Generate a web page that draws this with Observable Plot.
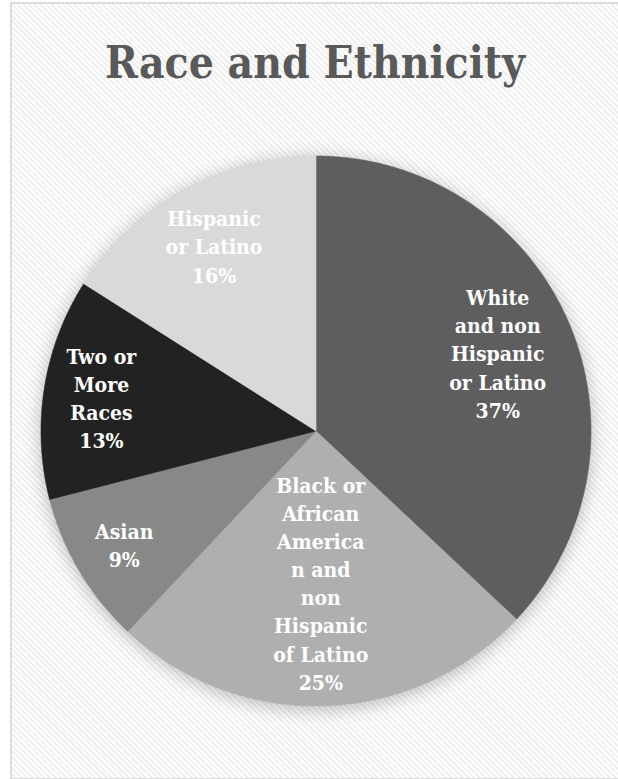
<!DOCTYPE html>
<html>
<head>
<meta charset="utf-8">
<script src="https://cdn.jsdelivr.net/npm/d3@7"></script>
<script src="https://cdn.jsdelivr.net/npm/@observablehq/plot@0.6"></script>
<style>
  html, body { margin: 0; padding: 0; background: #ffffff; }
  #wrap { position: relative; width: 618px; height: 779px; overflow: hidden; }
  #bg { position: absolute; left: 10px; top: 2px; width: 640px; height: 774px;
        border: 2px solid #dcdcdc;
        background: repeating-linear-gradient(45deg, #ffffff 0px, #ffffff 2px, #efefef 2px, #efefef 4px); }
  #chart { position: absolute; left: 0; top: 0; }
</style>
</head>
<body>
<div id="wrap"><div id="bg"></div><div id="chart"></div></div>
<script>
const title = "Race and Ethnicity";
const categories = [
  "White and non Hispanic or Latino",
  "Black or African American and non Hispanic of Latino",
  "Asian",
  "Two or More Races",
  "Hispanic or Latino"
];
const values = [37, 25, 9, 13, 16];
const labels = [
  "White\nand non\nHispanic\nor Latino\n37%",
  "Black or\nAfrican\nAmerica\nn and\nnon\nHispanic\nof Latino\n25%",
  "Asian\n9%",
  "Two or\nMore\nRaces\n13%",
  "Hispanic\nor Latino\n16%"
];
const colors = ["#5e5e5e", "#afafaf", "#888888", "#222222", "#d9d9d9"];

// rendering options (not data)
const W = 618, H = 779;
const cx = 315.5, cy = 430.5, R = 275;
const labelRadius = [0.72, 0.55, 0.81, 0.79, 0.77];
const serif = "'DejaVu Serif Condensed', 'DejaVu Serif', serif";

const arcs = d3.pie().sort(null).startAngle(0).endAngle(2 * Math.PI)(values);
const slicePts = arcs.flatMap((a, i) => {
  const n = Math.max(4, Math.ceil((a.endAngle - a.startAngle) / 0.004));
  const pts = [{x: 0, y: 0, k: i}];
  for (let j = 0; j <= n; j++) {
    const t = a.startAngle + (a.endAngle - a.startAngle) * j / n;
    pts.push({x: Math.sin(t), y: Math.cos(t), k: i});
  }
  pts.push({x: 0, y: 0, k: i});
  return pts;
});
const labelData = arcs.map((a, i) => {
  const m = (a.startAngle + a.endAngle) / 2;
  return {x: labelRadius[i] * Math.sin(m), y: labelRadius[i] * Math.cos(m), text: labels[i], cat: categories[i]};
});

const plot = Plot.plot({
  width: W, height: H,
  marginLeft: 11, marginRight: 0, marginTop: 0, marginBottom: 0,
  style: {background: "transparent", overflow: "visible"},
  x: {domain: [-1, 1], range: [cx - R, cx + R], axis: null},
  y: {domain: [-1, 1], range: [cy + R, cy - R], axis: null},
  color: {type: "identity"},
  marks: [
    Plot.dot([{x: 0, y: 0}], {x: "x", y: "y", r: R + 2, fill: "#000", fillOpacity: 0.22, stroke: null, dy: 3}),
    Plot.line(slicePts, {x: "x", y: "y", z: "k", fill: d => colors[d.k], stroke: d => colors[d.k], strokeWidth: 0.6, curve: "linear"}),
    Plot.text(labelData, {x: "x", y: "y", text: "text", fill: "white", fontSize: 21, fontWeight: "bold",
      fontFamily: serif, lineHeight: 1.34, lineAnchor: "middle"}),
    Plot.text([title], {frameAnchor: "top", lineAnchor: "middle", dy: 63, dx: 0, text: d => d,
      fill: "#595959", fontSize: 44, fontWeight: "bold", fontFamily: serif})
  ]
});
const dotG = plot.querySelector("g[aria-label='dot']");
if (dotG) dotG.style.filter = "blur(8px)";
document.getElementById("chart").appendChild(plot);
</script>
</body>
</html>
